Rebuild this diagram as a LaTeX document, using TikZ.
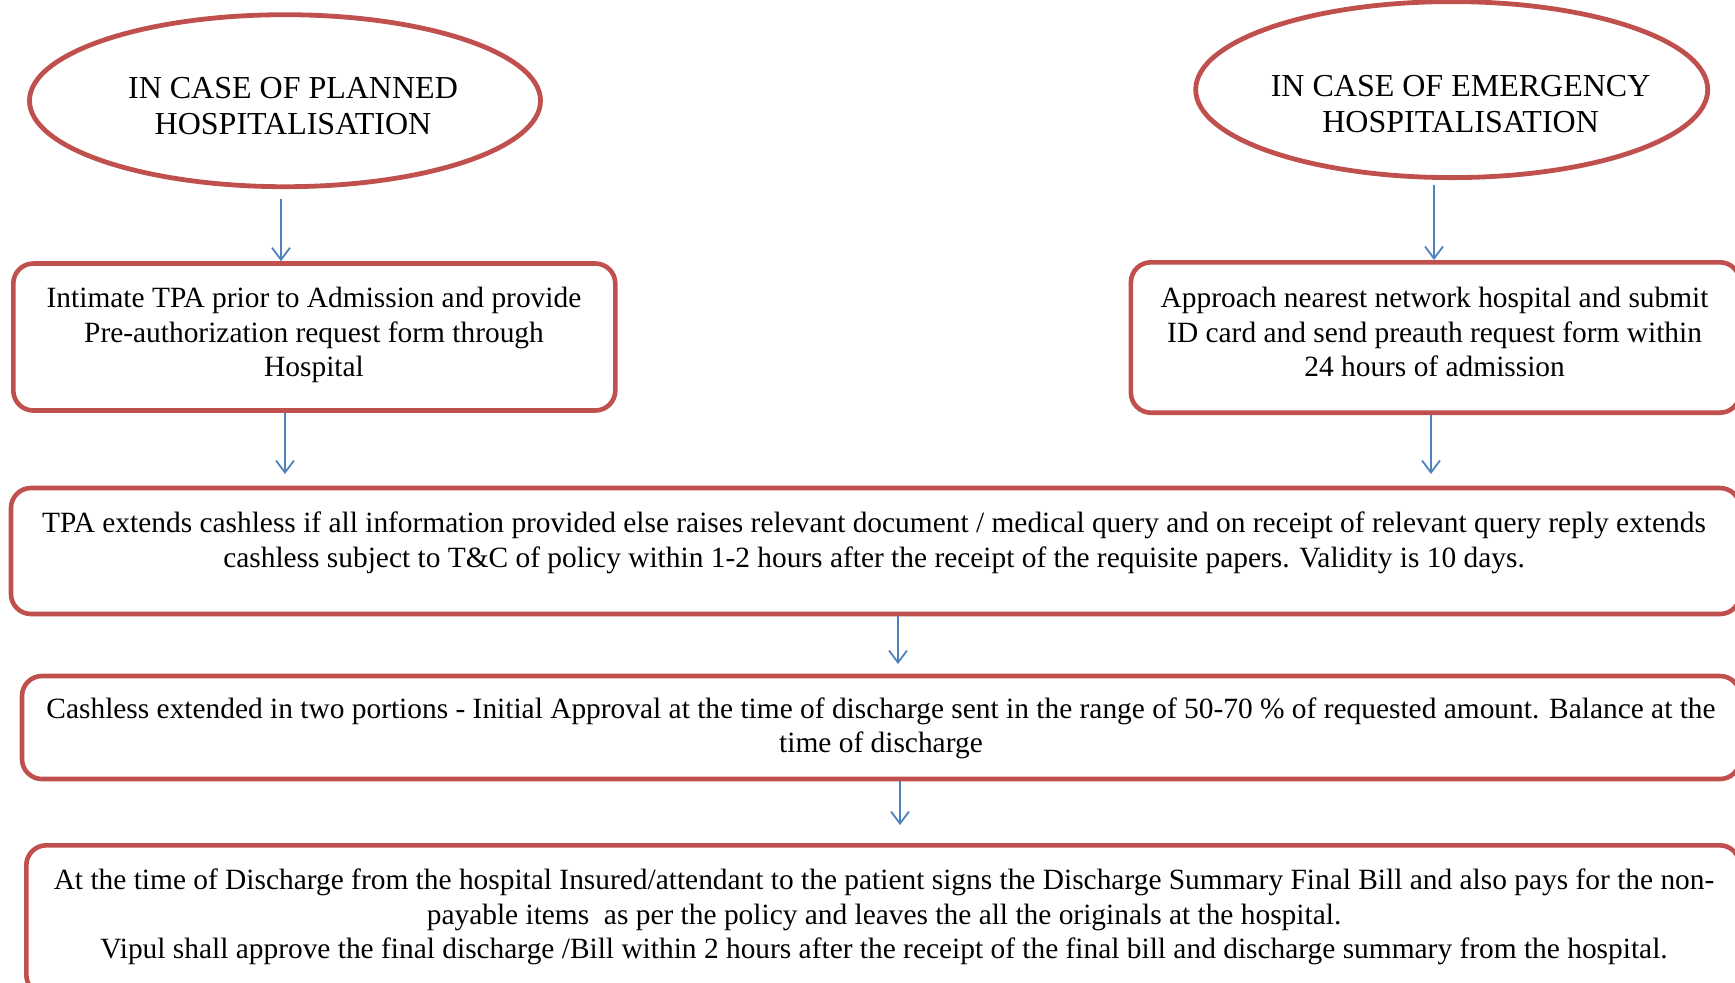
\documentclass[tikz,border=0pt]{standalone}
\usepackage{fontspec}
\setmainfont{Liberation Serif}
\usetikzlibrary{arrows.meta,shapes.geometric}
\definecolor{boxred}{HTML}{C0504D}
\definecolor{arrblue}{HTML}{4F81BD}
\tikzset{
  oval/.style={ellipse, draw=boxred, line width=2.4pt, inner sep=0pt},
  rbox/.style={rectangle, rounded corners=10pt, draw=boxred, line width=2.3pt, inner sep=0pt},
  txt/.style={align=center, inner sep=0pt, font=\fontsize{14.7pt}{17.2pt}\selectfont},
  otxt/.style={align=center, inner sep=0pt, font=\fontsize{16pt}{18.3pt}\selectfont},
  arr/.style={draw=arrblue, line width=0.9pt, -{Straight Barb[length=6pt,width=9pt,line width=0.9pt]}}
}
\begin{document}
\begin{tikzpicture}[x=0.5pt,y=-0.5pt]
\useasboundingbox (0,0) rectangle (1735,982);
\clip (0,0) rectangle (1735,982);
% ovals
\node[oval, minimum width=255.5pt, minimum height=86pt] (e1) at (285,100.7) {};
\node[oval, minimum width=256pt, minimum height=88pt] (e2) at (1451.7,89.6) {};
\node[otxt] (te1) at (293,106) {IN CASE OF PLANNED\\HOSPITALISATION};
\node[otxt] (te2) at (1460.6,104) {IN CASE OF EMERGENCY\\HOSPITALISATION};
% boxes
\node[rbox, minimum width=301pt, minimum height=73.5pt] (b1) at (314.3,337) {};
\node[rbox, minimum width=304.5pt, minimum height=75.2pt] (b2) at (1435.4,337.5) {};
\node[rbox, minimum width=864.5pt, minimum height=63pt] (b3) at (875.5,551) {};
\node[rbox, minimum width=859pt, minimum height=51.5pt] (b4) at (881,727.5) {};
\node[rbox, minimum width=856.7pt, minimum height=74.7pt] (b5) at (883,920) {};
% texts
\node[txt] (t1) at (314,335) {Intimate TPA prior to Admission and provide\\Pre-authorization request form through\\Hospital};
\node[txt] (t2) at (1434.6,332) {Approach nearest network hospital and submit\\ID card and send preauth request form within\\24 hours of admission};
\node[txt] (t3) at (874,543) {TPA extends cashless if all information provided else raises relevant document / medical query and on receipt of relevant query reply extends\\cashless subject to T\&C of policy within 1-2 hours after the receipt of the requisite papers. Validity is 10 days.};
\node[txt] (t4) at (881,728.5) {Cashless extended in two portions - Initial Approval at the time of discharge sent in the range of 50-70 \% of requested amount. Balance at the\\time of discharge};
\node[txt] (t5) at (884,917) {At the time of Discharge from the hospital Insured/attendant to the patient signs the Discharge Summary Final Bill and also pays for the non-\\payable items\ \ as per the policy and leaves the all the originals at the hospital.\\Vipul shall approve the final discharge /Bill within 2 hours after the receipt of the final bill and discharge summary from the hospital.};
% arrows
\coordinate (a1) at (281,199);
\coordinate (a3) at (1434,185);
\coordinate (x2) at (285,474);
\coordinate (x4) at (1431,474);
\coordinate (x5) at (898,664);
\coordinate (x6) at (900,825);
\draw[arr] (a1) -- (a1 |- b1.north);
\draw[arr] (a3) -- (a3 |- b2.north);
\draw[arr] (x2 |- b1.south) -- (x2);
\draw[arr] (x4 |- b2.south) -- (x4);
\draw[arr] (x5 |- b3.south) -- (x5);
\draw[arr] (x6 |- b4.south) -- (x6);
\end{tikzpicture}
\end{document}
